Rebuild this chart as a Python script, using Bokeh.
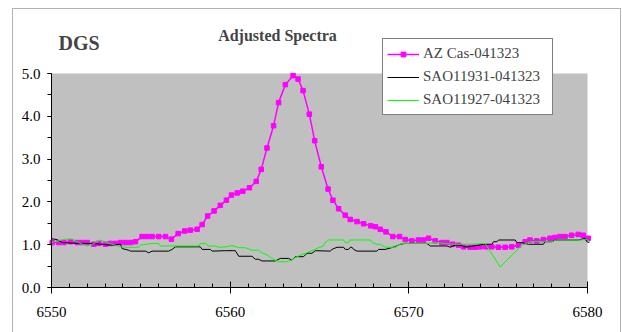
from bokeh.plotting import figure
from bokeh.models import (SingleIntervalTicker, PrintfTickFormatter, Legend, LegendItem,
                          Label, Range1d, LinearAxis, BoxAnnotation)
from bokeh.embed import file_html
from bokeh.resources import INLINE

# ---- data ----
az_x = [6550.04, 6550.41, 6550.69, 6551.06, 6551.44, 6551.71, 6552.00, 6552.37, 6552.65, 6553.02,
        6553.30, 6553.58, 6553.86, 6554.14, 6554.42, 6554.70, 6555.07, 6555.35, 6555.63, 6556.00,
        6556.38, 6556.71, 6557.09, 6557.46, 6557.77, 6558.15, 6558.43, 6558.74, 6559.10, 6559.45,
        6559.79, 6560.07, 6560.40, 6560.71, 6561.08, 6561.46, 6561.74, 6562.06, 6562.43, 6562.71,
        6563.09, 6563.52, 6563.80, 6564.08, 6564.43, 6564.73, 6565.10, 6565.48, 6565.75, 6566.07,
        6566.44, 6566.72, 6567.10, 6567.47, 6567.87, 6568.13, 6568.40, 6568.72, 6569.10, 6569.48,
        6569.80, 6570.17, 6570.54, 6570.82, 6571.10, 6571.47, 6571.85, 6572.13, 6572.46, 6572.78,
        6573.06, 6573.43, 6573.71, 6573.99, 6574.32, 6574.64, 6575.01, 6575.39, 6575.76, 6576.13,
        6576.51, 6576.78, 6577.16, 6577.53, 6577.90, 6578.18, 6578.46, 6578.74, 6579.11, 6579.48,
        6579.76, 6580.04]
az_y = [1.05, 1.05, 1.05, 1.07, 1.05, 1.05, 1.05, 1.01, 1.03, 1.01,
        1.03, 1.03, 1.05, 1.05, 1.05, 1.07, 1.19, 1.19, 1.19, 1.19,
        1.19, 1.13, 1.26, 1.32, 1.34, 1.36, 1.47, 1.67, 1.79, 1.92,
        2.04, 2.16, 2.21, 2.25, 2.33, 2.48, 2.76, 3.26, 3.78, 4.32,
        4.74, 4.95, 4.87, 4.60, 4.05, 3.43, 2.82, 2.30, 2.04, 1.84,
        1.69, 1.59, 1.54, 1.49, 1.44, 1.42, 1.36, 1.30, 1.19, 1.19,
        1.12, 1.09, 1.11, 1.11, 1.15, 1.09, 1.05, 1.05, 1.01, 0.99,
        0.95, 0.94, 0.94, 0.95, 0.95, 0.95, 0.94, 0.94, 0.95, 0.99,
        1.07, 1.11, 1.09, 1.12, 1.15, 1.17, 1.19, 1.19, 1.22, 1.24,
        1.22, 1.15]

sao31_x = [6550.00, 6550.30, 6550.60, 6551.00, 6551.50, 6552.00, 6552.50, 6553.00, 6553.30, 6553.86,
           6553.95, 6554.33, 6554.42, 6555.26, 6555.44, 6555.63, 6556.56, 6556.75, 6556.94, 6558.33,
           6558.43, 6558.89, 6558.99, 6559.73, 6560.29, 6560.48, 6561.22, 6561.41, 6561.60, 6561.78,
           6562.53, 6562.81, 6563.27, 6563.46, 6563.65, 6564.11, 6564.30, 6564.58, 6564.77, 6565.60,
           6565.70, 6565.98, 6566.35, 6566.44, 6566.63, 6566.72, 6566.82, 6566.91, 6567.10, 6568.21,
           6568.31, 6568.68, 6569.20, 6569.52, 6569.80, 6571.01, 6571.20, 6572.13, 6572.32, 6572.60,
           6572.97, 6573.06, 6573.34, 6574.18, 6574.65, 6574.74, 6574.93, 6575.02, 6575.95, 6576.05,
           6576.33, 6576.70, 6577.53, 6577.63, 6578.00, 6578.19, 6579.49, 6579.87, 6579.96, 6580.10]
sao31_y = [1.14, 1.12, 1.05, 1.04, 1.03, 1.03, 1.02, 1.00, 0.99, 1.01,
           0.91, 0.87, 0.85, 0.85, 0.81, 0.85, 0.85, 0.89, 0.95, 0.95,
           0.89, 0.89, 0.85, 0.86, 0.86, 0.73, 0.73, 0.66, 0.66, 0.62,
           0.62, 0.68, 0.68, 0.64, 0.72, 0.72, 0.80, 0.80, 0.86, 0.85,
           0.89, 0.94, 0.94, 0.89, 0.89, 0.94, 0.94, 0.89, 0.85, 0.85,
           0.89, 0.89, 0.95, 1.01, 1.03, 1.03, 0.97, 0.97, 0.94, 0.99,
           0.99, 0.95, 0.95, 1.01, 1.01, 1.07, 1.07, 1.11, 1.11, 1.05,
           1.05, 1.01, 1.01, 1.07, 1.07, 1.11, 1.11, 1.15, 1.07, 1.05]

sao27_x = [6550.00, 6550.78, 6551.16, 6551.50, 6552.00, 6552.40, 6552.74, 6553.10, 6553.86, 6554.23,
           6554.88, 6554.98, 6555.63, 6556.00, 6556.10, 6558.24, 6558.33, 6558.61, 6558.80, 6559.17,
           6559.36, 6559.80, 6560.10, 6560.48, 6560.85, 6561.22, 6561.60, 6561.78, 6562.06, 6562.34,
           6562.71, 6563.09, 6563.37, 6563.74, 6564.21, 6564.58, 6564.95, 6565.23, 6565.32, 6565.51,
           6566.35, 6566.44, 6566.63, 6566.72, 6567.84, 6567.94, 6568.21, 6568.40, 6568.68, 6569.24,
           6569.33, 6569.61, 6571.01, 6571.50, 6572.50, 6573.50, 6574.27, 6575.11, 6576.33, 6576.80,
           6578.10, 6578.19, 6579.68, 6579.90, 6580.15]
sao27_y = [1.05, 1.13, 1.13, 1.05, 0.97, 1.03, 1.11, 1.05, 0.95, 0.94,
           0.94, 0.99, 1.03, 1.03, 0.97, 0.97, 1.03, 1.03, 0.97, 0.97,
           0.94, 0.95, 0.98, 0.93, 0.93, 0.87, 0.87, 0.81, 0.76, 0.68,
           0.60, 0.60, 0.63, 0.72, 0.80, 0.86, 0.93, 0.97, 1.05, 1.11,
           1.11, 1.05, 1.05, 1.11, 1.11, 1.05, 1.01, 1.01, 0.94, 0.94,
           0.97, 1.03, 1.03, 1.05, 1.01, 1.01, 1.03, 0.48, 0.99, 1.07,
           1.07, 1.11, 1.11, 1.13, 1.07]

series_names = ["AZ Cas-041323", "SAO11931-041323", "SAO11927-041323"]
chart_title = "Adjusted Spectra"
corner_text = "DGS"
x_lo, x_hi = 6550, 6580     # plotted wavelength span
y_lo, y_hi = 0, 5           # plotted value span

FONT = "Liberation Serif"

# ---- layout (pixels in the 622x332 canvas) ----
W, H = 622, 332
FL, FR, FT, FB = 11, 621, 7, 332          # frame edges
PL, PR, PT, PB = 51, 587, 73, 287          # plotting-area edges
BL, BR, BT = 12, 620, 8                    # outer chart border
sx = (PR - PL) / (x_hi - x_lo)
sy = (PB - PT) / (y_hi - y_lo)
def dx(px):
    return x_lo + (px - PL) / sx
def dy(py):
    return y_lo + (PB - py) / sy

p = figure(width=W, height=H, output_backend="svg", toolbar_location=None,
           x_range=Range1d(dx(FL), dx(FR)), y_range=Range1d(dy(FB), dy(FT)),
           x_axis_location=None, y_axis_location=None,
           min_border_left=FL, min_border_right=W - FR, min_border_top=FT, min_border_bottom=H - FB,
           background_fill_color="white", border_fill_color="white")
p.title.visible = False
p.outline_line_color = None
for g in list(p.grid):
    g.visible = False

# grey plotting area and outer border
p.add_layout(BoxAnnotation(left=x_lo, right=x_hi, bottom=y_lo, top=y_hi,
                           fill_color="#C0C0C0", fill_alpha=1, line_color=None, level="underlay"))
p.add_layout(BoxAnnotation(left=dx(BL), right=dx(BR), bottom=dy(H + 20), top=dy(BT),
                           fill_alpha=0, line_color="black", line_width=1, level="underlay"))

xaxis = LinearAxis(fixed_location=y_lo, bounds=(x_lo, x_hi),
                   ticker=SingleIntervalTicker(interval=10, num_minor_ticks=10),
                   formatter=PrintfTickFormatter(format="%d"))
yaxis = LinearAxis(fixed_location=x_lo, bounds=(y_lo, y_hi),
                   ticker=SingleIntervalTicker(interval=1, num_minor_ticks=2),
                   formatter=PrintfTickFormatter(format="%.1f"))
for ax in (xaxis, yaxis):
    ax.axis_line_color = "black"
    ax.major_tick_line_color = "black"
    ax.minor_tick_line_color = "black"
    ax.major_label_text_font = FONT
    ax.major_label_text_font_size = "15px"
    ax.major_label_text_color = "black"
xaxis.major_tick_in = 6
xaxis.major_tick_out = 6
xaxis.minor_tick_in = 4
xaxis.minor_tick_out = 0
xaxis.major_label_standoff = 13
yaxis.major_tick_in = 0
yaxis.major_tick_out = 4
yaxis.minor_tick_in = 0
yaxis.minor_tick_out = 4
yaxis.major_label_standoff = 7
p.add_layout(xaxis, "below")
p.add_layout(yaxis, "left")

r_az_line = p.line(az_x, az_y, line_color="#FF00FF", line_width=1.5)
r_az_pts = p.scatter(az_x, az_y, marker="square", size=4.5, fill_color="#FF00FF",
                     line_color="#FF00FF")
r_31 = p.line(sao31_x, sao31_y, line_color="black", line_width=1)
r_27 = p.line(sao27_x, sao27_y, line_color="#00FF00", line_width=1)

p.add_layout(Label(x=277 - FL, y=FB - 35, x_units="screen", y_units="screen", text=chart_title,
                   text_font=FONT, text_font_size="16px", text_font_style="bold",
                   text_align="center", text_baseline="middle"))
p.add_layout(Label(x=58 - FL, y=FB - 42, x_units="screen", y_units="screen", text=corner_text,
                   text_font=FONT, text_font_size="20px", text_font_style="bold",
                   text_align="left", text_baseline="middle"))

legend = Legend(items=[LegendItem(label=series_names[0], renderers=[r_az_line, r_az_pts]),
                       LegendItem(label=series_names[1], renderers=[r_31]),
                       LegendItem(label=series_names[2], renderers=[r_27])],
                location=(382 - FL, FB - 115), margin=0, padding=4, spacing=2,
                glyph_width=32, glyph_height=12, label_height=21, label_standoff=4,
                label_width=125,
                label_text_font=FONT, label_text_font_size="15px",
                border_line_color="black", border_line_width=1,
                background_fill_color="white", background_fill_alpha=1)
p.add_layout(legend, "center")

open("out.html", "w").write(file_html(p, INLINE))
